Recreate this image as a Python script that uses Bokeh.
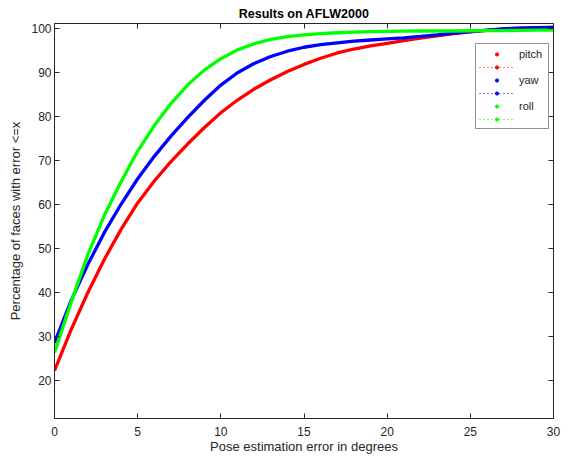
from bokeh.plotting import figure
from bokeh.models import Range1d, LinearAxis, Legend, LegendItem, ColumnDataSource, FixedTicker
from bokeh.embed import file_html
from bokeh.resources import INLINE

# ---- data ----
x_deg = list(range(31))
pitch = [22.3, 31.6, 40.0, 47.6, 54.4, 60.4, 65.4, 69.8, 73.8, 77.5, 80.9,
         83.8, 86.3, 88.4, 90.3, 91.9, 93.3, 94.5, 95.4, 96.1, 96.7,
         97.3, 97.9, 98.4, 98.9, 99.3, 99.65, 99.95, 100.15, 100.25, 100.3]
yaw = [28.6, 38.2, 46.4, 53.7, 60.1, 65.9, 71.0, 75.6, 79.8, 83.7, 87.2,
       90.0, 92.1, 93.7, 94.9, 95.8, 96.4, 96.8, 97.2, 97.45, 97.7,
       97.95, 98.25, 98.6, 99.0, 99.35, 99.7, 100.0, 100.15, 100.25, 100.3]
roll = [26.4, 37.8, 48.6, 57.6, 65.2, 72.2, 78.0, 83.0, 87.2, 90.6, 93.2,
        95.2, 96.6, 97.6, 98.2, 98.6, 98.9, 99.1, 99.25, 99.35, 99.4,
        99.45, 99.5, 99.5, 99.5, 99.55, 99.6, 99.6, 99.65, 99.7, 99.7]
series_names = ["pitch", "yaw", "roll"]
series_values = [pitch, yaw, roll]
series_colors = ["#ff0000", "#0000ff", "#00ff00"]
x_ticks = [0, 5, 10, 15, 20, 25, 30]
y_ticks = [20, 30, 40, 50, 60, 70, 80, 90, 100]

TXT = "#262626"
FONT = "Liberation Sans"
NAN = float("nan")

p = figure(width=569, height=462, output_backend="svg", toolbar_location=None,
           x_range=Range1d(0, 30), y_range=Range1d(11.4, 101.2),
           min_border_left=54, min_border_right=16, min_border_top=23,
           min_border_bottom=44,
           title="Results on AFLW2000",
           x_axis_label="Pose estimation error in degrees",
           y_axis_label="Percentage of faces with error <=x")

p.title.align = "center"
p.title.text_font = FONT
p.title.text_font_size = "12.5px"
p.title.text_font_style = "bold"
p.title.text_color = "#000000"
p.title.standoff = 5
p.title.offset = 0

p.xgrid.visible = False
p.ygrid.visible = False
p.outline_line_color = None
p.background_fill_color = "white"
p.border_fill_color = "white"

def style_axis(ax, ticks, show_labels=True):
    ax.ticker = FixedTicker(ticks=ticks)
    ax.major_tick_in = 5
    ax.major_tick_out = 0
    ax.minor_tick_in = 0
    ax.minor_tick_out = 0
    ax.axis_line_color = TXT
    ax.major_tick_line_color = TXT
    ax.axis_line_width = 1
    ax.major_label_text_font = FONT
    ax.axis_label_text_font = FONT
    ax.axis_label_text_color = TXT
    ax.axis_label_text_font_style = "normal"
    ax.axis_label_text_font_size = "13px"
    if show_labels:
        ax.major_label_text_font_size = "12px"
        ax.major_label_text_color = TXT
    else:
        ax.major_label_text_font_size = "1px"
        ax.major_label_text_color = None
        ax.major_label_standoff = 0

style_axis(p.xaxis[0], x_ticks)
p.xaxis[0].major_label_standoff = 8
p.xaxis[0].axis_label_standoff = 0
style_axis(p.yaxis[0], y_ticks)
p.yaxis[0].major_label_standoff = 3
p.yaxis[0].axis_label_standoff = 5

top_ax = LinearAxis()
style_axis(top_ax, x_ticks, show_labels=False)
p.add_layout(top_ax, "above")
right_ax = LinearAxis()
style_axis(right_ax, y_ticks, show_labels=False)
p.add_layout(right_ax, "right")

for name, vals, col in zip(series_names, series_values, series_colors):
    src = ColumnDataSource(dict(x=x_deg, y=vals))
    p.line("x", "y", source=src, line_color=col, line_width=3.3)

# legend (Octave style: dot row + dotted line row per series)
items = []
for name, col in zip(series_names, series_colors):
    dummy = ColumnDataSource(dict(x=[NAN], y=[NAN]))
    dot = p.scatter("x", "y", source=dummy, marker="circle", size=3,
                    fill_color=col, line_color=col)
    ln = p.line("x", "y", source=dummy, line_color=col, line_width=1,
                line_dash="1 3")
    dot2 = p.scatter("x", "y", source=dummy, marker="circle", size=3,
                     fill_color=col, line_color=col)
    items.append(LegendItem(label=name, renderers=[dot]))
    items.append(LegendItem(label=" ", renderers=[ln, dot2]))

legend = Legend(items=items, location=(421, 289))
legend.label_text_font = FONT
legend.label_text_font_size = "11px"
legend.label_text_color = TXT
legend.label_height = 13
legend.label_width = 26
legend.glyph_height = 8
legend.glyph_width = 35
legend.label_standoff = 5
legend.padding = 3
legend.spacing = 0
legend.margin = 0
legend.border_line_color = TXT
legend.border_line_width = 1
legend.background_fill_color = "white"
legend.background_fill_alpha = 1
p.add_layout(legend)

open("out.html", "w").write(file_html(p, INLINE))
